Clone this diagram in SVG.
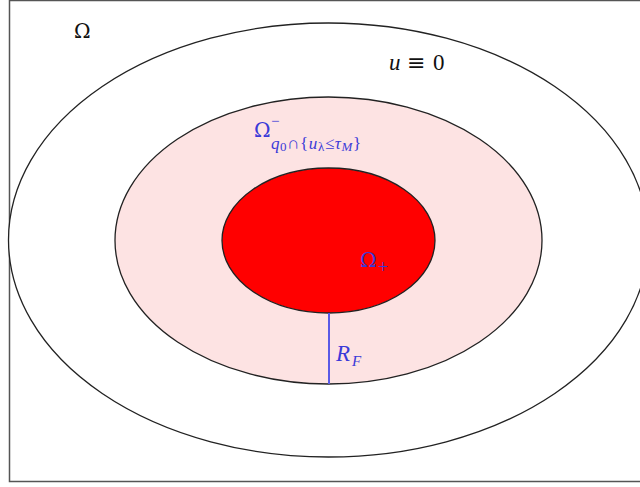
<svg xmlns="http://www.w3.org/2000/svg" width="640" height="487" viewBox="0 0 640 487">
<style>
.lbl{font-family:"Liberation Serif","DejaVu Serif",serif;}
.dj{font-family:"DejaVu Serif","Liberation Serif",serif;}
.blk{fill:#111;}
.blu{fill:#3a3ad8;}
</style>
<rect x="0" y="0" width="640" height="487" fill="#fff"/>
<g id="frame"><path d="M9.5,0.5 H640 M9.5,0 V481.5 H640" fill="none" stroke="#555" stroke-width="1.5"/></g>
<g id="omega">
<ellipse cx="328.5" cy="240" rx="320" ry="217" fill="#fff" stroke="#222" stroke-width="1.3"/>
<text class="dj blk" x="74" y="38" font-size="20">Ω</text>
<text class="lbl blk" font-size="23"><tspan x="389" y="70" font-style="italic">u</tspan><tspan class="dj" x="407" y="70" font-size="22">≡</tspan><tspan x="433" y="70">0</tspan></text>
</g>
<g id="omega-q0">
<ellipse cx="328.5" cy="240.5" rx="213.5" ry="143.5" fill="#fde3e3" stroke="#222" stroke-width="1.3"/>
<text class="dj blu" x="254" y="137" font-size="20">Ω</text>
<text class="lbl blu" x="271" y="126" font-size="15">−</text>
<text class="lbl blu" x="271" y="149" font-size="17" letter-spacing="0.6"><tspan font-style="italic">q</tspan><tspan font-size="13" dy="2">0</tspan><tspan dy="-2">∩{</tspan><tspan font-style="italic">u</tspan><tspan font-size="13" dy="2">λ</tspan><tspan dy="-2">≤</tspan><tspan font-style="italic">τ</tspan><tspan font-size="13" font-style="italic" dy="2">M</tspan><tspan dy="-2">}</tspan></text>
</g>
<g id="omega-plus">
<ellipse cx="328.5" cy="240.5" rx="106.5" ry="72.5" fill="#ff0000" stroke="#222" stroke-width="1.3"/>
<text class="dj blu" x="360" y="267" font-size="20">Ω</text>
<text class="lbl blu" x="378" y="273" font-size="18">+</text>
</g>
<g id="connectors">
<line x1="329" y1="313" x2="329" y2="384" stroke="#5a5ae6" stroke-width="2"/>
<text class="lbl blu" x="336" y="361" font-size="23" font-style="italic">R</text>
<text class="lbl blu" x="352" y="366" font-size="15" font-style="italic">F</text>
</g>
</svg>
